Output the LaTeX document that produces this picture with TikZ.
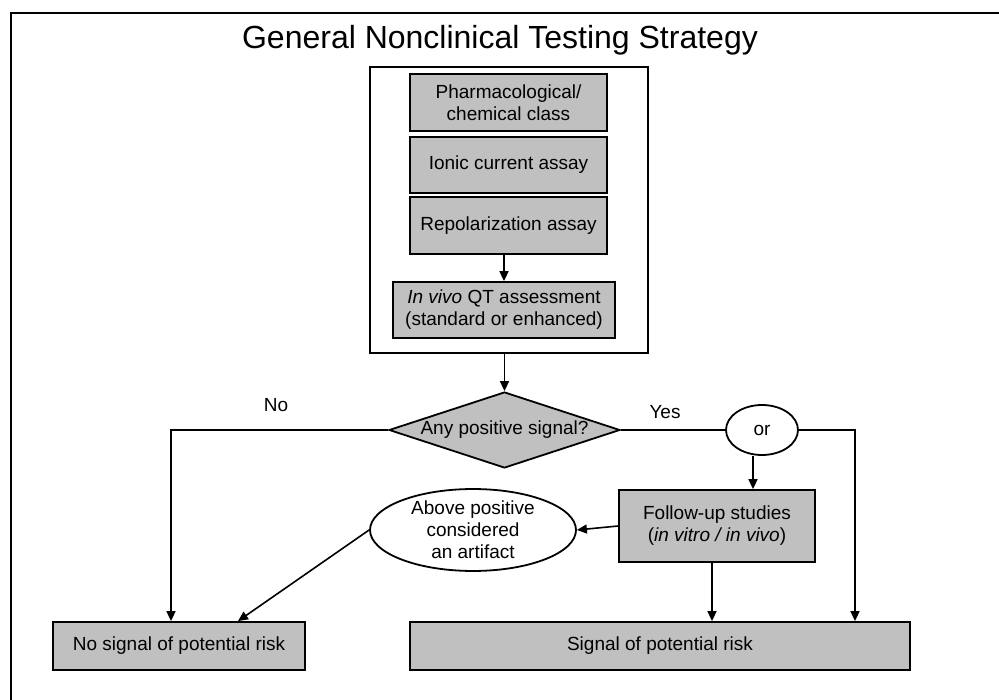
\documentclass[tikz,border=0pt]{standalone}
\usepackage{fontspec}
\setmainfont{Liberation Sans}
\usetikzlibrary{shapes.geometric,arrows.meta}
\definecolor{boxgray}{HTML}{C0C0C0}
\begin{document}
\begin{tikzpicture}[x=1pt,y=-1pt,
  txt/.style={font=\fontsize{19}{22}\selectfont},
  box/.style={draw,line width=1.8pt,fill=boxgray,inner sep=0pt,align=center,txt},
  conn/.style={line width=1.6pt},
  arr/.style={line width=1.6pt,-{Triangle[length=10pt,width=9pt]}}
]
\useasboundingbox (0,0) rectangle (999,700);
% outer frame (open to the right and bottom)
\draw[line width=2.2pt] (11,700) -- (11,13) -- (999,13);
\node[font=\fontsize{32}{36}\selectfont] (title) at (500,40) {General Nonclinical Testing Strategy};
% group box
\node[draw,line width=1.8pt,fill=white,minimum width=278pt,minimum height=286pt,inner sep=0pt] (group) at (509,210) {};
\node[box,minimum width=197pt,minimum height=57pt] (pharm) at (508.5,102.5) {Pharmacological/\\chemical class};
\node[box,minimum width=197pt,minimum height=56pt] (ionic) at (508.5,165) {Ionic current assay};
\node[box,minimum width=197pt,minimum height=57pt] (repol) at (508.5,225.5) {Repolarization assay};
\node[box,minimum width=222pt,minimum height=56pt] (invivo) at (504,310) {\textit{In vivo} QT assessment\\(standard or enhanced)};
% decision
\node[diamond,aspect=3.04,draw,line width=1.8pt,fill=boxgray,inner sep=0pt,minimum width=231pt,minimum height=76pt,txt] (diamond) at (504.5,430) {Any positive signal?};
\node[ellipse,draw,line width=1.8pt,fill=white,inner sep=0pt,minimum width=72pt,minimum height=50pt,txt] (or) at (762,430) {or};
\node[box,minimum width=196pt,minimum height=72pt] (follow) at (717,526) {Follow-up studies\\(\textit{in vitro / in vivo})};
\node[ellipse,draw,line width=1.8pt,fill=white,inner sep=0pt,minimum width=206pt,minimum height=80pt,align=center,txt] (artifact) at (473,530) {Above positive\\considered\\an artifact};
\node[box,minimum width=252pt,minimum height=48pt] (nosig) at (179,646) {No signal of potential risk};
\node[box,minimum width=500pt,minimum height=48pt] (signal) at (660,646) {Signal of potential risk};
% labels
\node[txt] (nolab) at (276,405) {No};
\node[txt] (yeslab) at (665,412) {Yes};
% connectors
\draw[arr] (repol.south -| invivo.north) -- (invivo.north);
\draw[arr] (group.south -| diamond.north) -- (diamond.north);
\draw[arr] (diamond.west) -| ([xshift=-8pt]nosig.north);
\draw[conn] (diamond.east) -- (or.west);
\draw[arr] (or.east) -| ([xshift=195pt]signal.north);
\draw[arr] ([xshift=-9pt]or.south) -- ([xshift=-9pt]or.south |- follow.north);
\draw[arr] (follow.west) -- (artifact.east);
\draw[arr] (artifact.west) -- ([xshift=59pt]nosig.north);
\draw[arr] ([xshift=-5pt]follow.south) -- ([xshift=-5pt]follow.south |- signal.north);
\end{tikzpicture}
\end{document}
